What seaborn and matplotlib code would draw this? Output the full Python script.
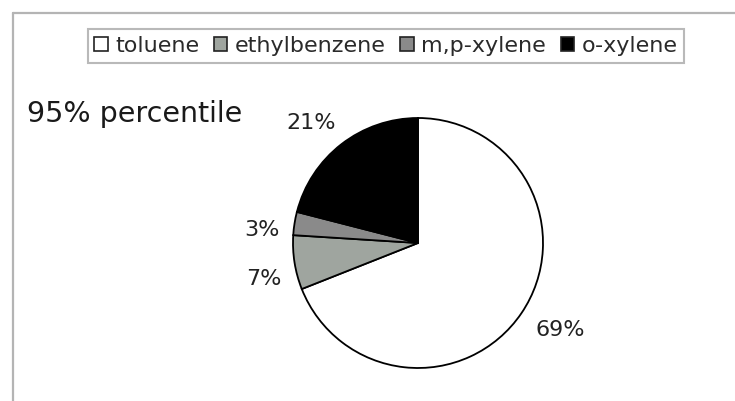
import numpy as np
import matplotlib
matplotlib.use("Agg")
import matplotlib.pyplot as plt
from matplotlib.patches import Patch
from matplotlib.lines import Line2D
import seaborn as sns

# Composition shares at the 95% percentile
compounds = ["toluene", "ethylbenzene", "m,p-xylene", "o-xylene"]
shares = [69, 7, 3, 21]
title_text = "95% percentile"

sns.set_theme(style="white")
plt.rcParams["font.family"] = ["DejaVu Sans"]
palette = sns.color_palette(["#ffffff", "#9fa59f", "#8a8a8a", "#000000"])

W, H = 735, 401
fig = plt.figure(figsize=(W / 100, H / 100), dpi=100)
fig.patch.set_facecolor("white")

# Square axes holding the pie (centre ~ (418, 243) px, radius 125 px)
cx, cy, r = 418, 243, 125
ax = fig.add_axes([(cx - r) / W, (H - cy - r) / H, 2 * r / W, 2 * r / H])

wedges, _ = ax.pie(
    shares,
    colors=palette,
    startangle=90,
    counterclock=False,
    wedgeprops=dict(edgecolor="black", linewidth=1.3),
)
ax.set_xlim(-1, 1)
ax.set_ylim(-1, 1)
ax.set_aspect("equal")
ax.axis("off")

# Percentage labels placed just outside each wedge, offset by the text box size
for w, v in zip(wedges, shares):
    mid = np.deg2rad((w.theta1 + w.theta2) / 2 + 3.5)
    c, s = np.cos(mid), np.sin(mid)
    half_w = 0.075 * len(f"{v}%")
    half_h = 0.065
    d = 1.1 + abs(c) * half_w + abs(s) * half_h
    ax.text(d * c, d * s, f"{v}%", ha="center", va="center_baseline",
            fontsize=16, color="#222222", clip_on=False)

# Title at the left
fig.text(27 / W, (H - 122) / H, title_text, fontsize=20.5, color="#1a1a1a",
         ha="left", va="baseline")

# Legend across the top
handles = [Patch(facecolor=col, edgecolor="#222222", linewidth=1.2)
           for col in palette]
leg = fig.legend(
    handles, compounds, ncol=4, loc="center",
    bbox_to_anchor=(386 / W, (H - 46) / H),
    fontsize=16, frameon=True, fancybox=False,
    handlelength=0.6, handleheight=0.6, handletextpad=0.35,
    columnspacing=0.65, borderpad=0.3, borderaxespad=0,
)
leg.get_frame().set_edgecolor("#a8a8a8")
leg.get_frame().set_linewidth(1.5)
for t in leg.get_texts():
    t.set_color("#2a2a2a")

# Chart-area border on the top and left
fig.add_artist(Line2D([12.5 / W, 1.0], [1 - 12.5 / H, 1 - 12.5 / H],
                      transform=fig.transFigure, color="#b4b4b4", lw=1.6))
fig.add_artist(Line2D([12.5 / W, 12.5 / W], [0.0, 1 - 12.5 / H],
                      transform=fig.transFigure, color="#b4b4b4", lw=1.6))

fig.savefig("out.png", dpi=100, facecolor="white")
